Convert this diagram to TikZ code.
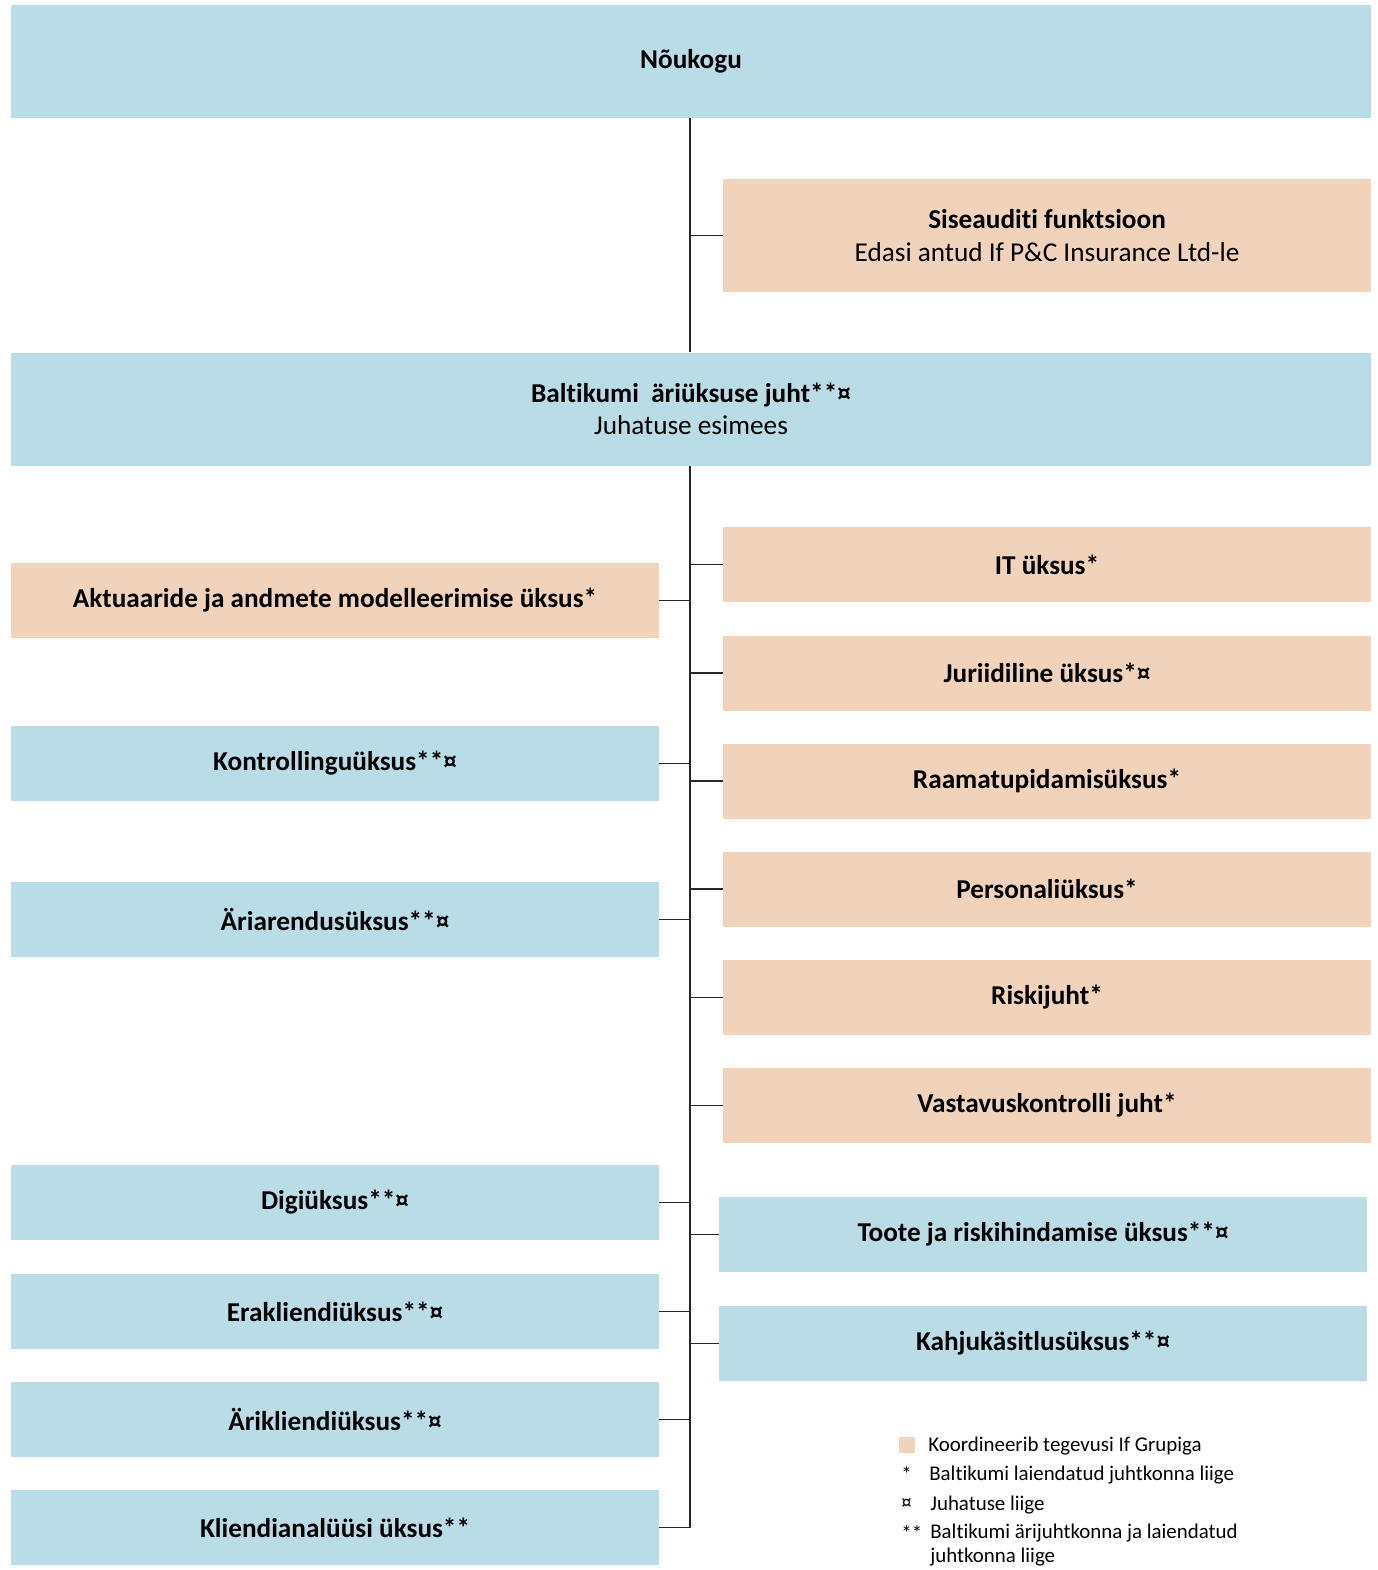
\documentclass[tikz,border=0pt]{standalone}
\usepackage{fontspec}
\setmainfont{Carlito}[Ligatures={NoCommon}]
\definecolor{ifblue}{HTML}{BADCE6}
\definecolor{ifpeach}{HTML}{F1D3BB}
\tikzset{
  unitbox/.style={inner sep=0pt, align=center, font=\fontsize{15.5}{18.5}\selectfont},
  widebox/.style={unitbox, minimum width=27.2cm, minimum height=2.26cm},
  halfbox/.style={unitbox, minimum width=12.96cm, minimum height=1.5cm},
  blubox/.style={fill=ifblue},
  peachbox/.style={fill=ifpeach},
  branch/.style={draw=black!85, line width=0.6pt},
  legtext/.style={anchor=west, inner sep=0pt, align=left, font=\fontsize{11.9}{13.7}\selectfont}
}
\begin{document}
\begin{tikzpicture}[x=0.02cm, y=-0.02cm]
    \useasboundingbox (0,0) rectangle (1378,1570);
    % top level
    \node[widebox, blubox] (noukogu) at (691,61.5) {\textbf{Nõukogu}};
    \node[widebox, peachbox, minimum width=12.96cm] (siseaudit) at (1047,235.5)
        {\textbf{Siseauditi funktsioon}\\Edasi antud If P\&C Insurance Ltd-le};
    \node[widebox, blubox] (juht) at (691,409)
        {\textbf{Baltikumi~ äriüksuse juht**¤}\\Juhatuse esimees};
    % left column
    \node[halfbox, peachbox] (aktuaar) at (335,600.5) {\textbf{Aktuaaride ja andmete modelleerimise üksus*}};
    \node[halfbox, blubox] (kontroll) at (335,763.5) {\textbf{Kontrollinguüksus**¤}};
    \node[halfbox, blubox] (ariarendus) at (335,919.5) {\textbf{Äriarendusüksus**¤}};
    \node[halfbox, blubox] (digi) at (335,1202.5) {\textbf{Digiüksus**¤}};
    \node[halfbox, blubox] (eraklient) at (335,1311.5) {\textbf{Erakliendiüksus**¤}};
    \node[halfbox, blubox] (ariklient) at (335,1419.5) {\textbf{Ärikliendiüksus**¤}};
    \node[halfbox, blubox] (analyys) at (335,1527.5) {\textbf{Kliendianalüüsi üksus**}};
    % right column
    \node[halfbox, peachbox] (it) at (1047,564.5) {\textbf{IT üksus*}};
    \node[halfbox, peachbox] (jurist) at (1047,673) {\textbf{Juriidiline üksus*¤}};
    \node[halfbox, peachbox] (raamat) at (1047,781) {\textbf{Raamatupidamisüksus*}};
    \node[halfbox, peachbox] (personal) at (1047,889) {\textbf{Personaliüksus*}};
    \node[halfbox, peachbox] (riski) at (1047,997.5) {\textbf{Riskijuht*}};
    \node[halfbox, peachbox] (vastavus) at (1047,1105.5) {\textbf{Vastavuskontrolli juht*}};
    \node[halfbox, blubox] (toote) at (1043,1234.5) {\textbf{Toote ja riskihindamise üksus**¤}};
    \node[halfbox, blubox] (kahju) at (1043,1343.5) {\textbf{Kahjukäsitlusüksus**¤}};
    % spine
    \coordinate (spinetop) at (690,118);
    \coordinate (spinebot) at (690,1527.5);
    \draw[branch] (spinetop) -- (spinetop |- juht.north);
    \draw[branch] (spinetop |- juht.south) -- (spinebot);
    \foreach \n in {siseaudit, it, jurist, raamat, personal, riski, vastavus, toote, kahju}
        \draw[branch] (\n.west) -- (\n.west -| spinetop);
    \foreach \n in {aktuaar, kontroll, ariarendus, digi, eraklient, ariklient, analyys}
        \draw[branch] (\n.east) -- (\n.east -| spinetop);
    % legend
    \node[fill=ifpeach, minimum size=0.32cm, inner sep=0pt] (legsq) at (907,1445) {};
    \node[legtext] (leg1) at (928,1446) {Koordineerib tegevusi If Grupiga};
    \node[legtext] (legs2) at (901,1474) {*};
    \node[legtext] (leg2) at (929,1475) {Baltikumi laiendatud juhtkonna liige};
    \node[legtext] (legs3) at (901,1504) {¤};
    \node[legtext] (leg3) at (930,1505) {Juhatuse liige};
    \node[legtext] (legs4) at (901,1533) {**};
    \node[legtext, anchor=north west] (leg4) at (930,1524) {Baltikumi ärijuhtkonna ja laiendatud\\juhtkonna liige};
\end{tikzpicture}
\end{document}
